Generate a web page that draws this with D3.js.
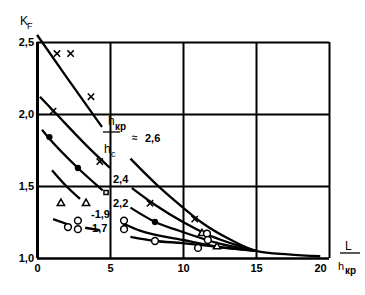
<!DOCTYPE html>
<html>
<head>
<meta charset="utf-8">
<script src="https://cdn.jsdelivr.net/npm/d3@7"></script>
<style>
  body { margin: 0; background: #fff; }
  text { font-family: "Liberation Sans", Arial, sans-serif; fill: #000; }
</style>
</head>
<body>
<div id="chart"></div>
<script>
// NOTE: data (x = L/h_kp, y = K_F); null = break in the line
const xTicks = [0, 5, 10, 15, 20];
const yTicks = [1.0, 1.5, 2.0, 2.5];
const curve26 = [[0, 2.55], [2, 2.26], [4.45, 1.91], null, [6.4, 1.69], [8.4, 1.49], [10.0, 1.35],
  [11.3, 1.245], [13.2, 1.13], [15.0, 1.05], [17.2, 1.025], [19.4, 1.012]];
const curve24 = [[0.2, 2.12], [1.23, 2.01], [3.5, 1.77], [5.0, 1.625], null, [6.5, 1.486], [8.1, 1.368],
  [10, 1.25], [11.6, 1.167], [15.0, 1.05]];
const curve22 = [[0.34, 1.89], [0.75, 1.84], [2.8, 1.625], [4.5, 1.47], null, [6.4, 1.35], [8.1, 1.25],
  [10, 1.18], [12.5, 1.1], [15.0, 1.05]];
const curve19 = [[1.03, 1.61], [2.0, 1.5], [2.95, 1.41], null, [5.9, 1.24], [7.05, 1.19],
  [10, 1.125], [12.5, 1.075], [15.0, 1.05]];
const curve17 = [[1.1, 1.27], [2.05, 1.236], null, [3.3, 1.21], [4.3, 1.194], null, [6.4, 1.146],
  [8.1, 1.118], [10, 1.104], [12.5, 1.075], [15.0, 1.05]];
const crossPts = [[1.37, 2.42], [2.3, 2.42], [3.7, 2.12], [10.8, 1.27], [1.1, 2.02], [4.3, 1.67], [7.74, 1.38]];
const dotPts = [[0.85, 1.84], [2.8, 1.625], [8.08, 1.25]];
const squarePts = [[4.73, 1.455]];
const trianglePts = [[1.64, 1.38], [3.36, 1.38], [11.3, 1.17], [12.33, 1.078]];
const circlePts = [[2.12, 1.215], [2.8, 1.26], [2.8, 1.2], [5.96, 1.26], [5.96, 1.2],
  [8.08, 1.118], [11.03, 1.07], [11.64, 1.17], [11.7, 1.125]];
const curveLabels = [
  ['2,4', 113, 183], ['2,2', 113, 207], ['-1,9', 91, 218], ['\u20131,7', 86, 232]];

const width = 365, height = 295;
const x = d3.scaleLinear().domain([0, 20]).range([37, 329]);
const y = d3.scaleLinear().domain([1, 2.5]).range([258, 42]);
const fmt = d => d3.format('.1f')(d).replace('.', ',');

const svg = d3.select('#chart').append('svg')
  .attr('width', width)
  .attr('height', height);

// grid + frame
const gx = svg.append('g')
  .attr('transform', `translate(0,${y(1)})`)
  .call(d3.axisBottom(x).tickValues(xTicks).tickSize(-(y(1) - y(2.5))).tickPadding(6).tickFormat(d3.format('d')));
const gy = svg.append('g')
  .attr('transform', `translate(${x(0)},0)`)
  .call(d3.axisLeft(y).tickValues(yTicks).tickSize(-(x(20) - x(0))).tickPadding(3).tickFormat(fmt));
[gx, gy].forEach(g => {
  g.select('.domain').remove();
  g.selectAll('line').attr('stroke', '#000').attr('stroke-width', 2);
  g.selectAll('text').attr('font-size', 11).attr('font-weight', 'bold').attr('fill', '#000');
});
gx.selectAll('text').filter(d => d === 20).attr('dx', -9);
gy.selectAll('line').filter(d => d === 1).attr('stroke-width', 2.5);
gx.selectAll('line').filter(d => d === 0).attr('stroke-width', 3);

// curves
const line = d3.line()
  .defined(d => d != null)
  .x(d => x(d[0]))
  .y(d => y(d[1]))
  .curve(d3.curveMonotoneX);
[curve26, curve24, curve22, curve19, curve17].forEach(c => {
  svg.append('path')
    .attr('d', line(c))
    .attr('fill', 'none')
    .attr('stroke', '#000')
    .attr('stroke-width', 2.3);
});

// markers
function markers(data, type, size, filled) {
  svg.append('g').selectAll('path')
    .data(data)
    .join('path')
    .attr('transform', d => `translate(${x(d[0])},${y(d[1])})`)
    .attr('d', d3.symbol(type, size))
    .attr('fill', filled ? '#000' : '#fff')
    .attr('stroke', '#000')
    .attr('stroke-width', 1.5);
}
markers(crossPts, d3.symbolTimes, 28, false);
markers(trianglePts, d3.symbolTriangle2, 38, false);
markers(circlePts, d3.symbolCircle, 36, false);
markers(squarePts, d3.symbolSquare2, 22, false);
markers(dotPts, d3.symbolCircle, 18, true);

// curve labels
svg.append('g').selectAll('text')
  .data(curveLabels)
  .join('text')
  .attr('x', d => d[1])
  .attr('y', d => d[2])
  .attr('font-size', 11)
  .attr('font-weight', 'bold')
  .text(d => d[0]);

// ratio label h_kp / h_c = 2,6
svg.append('text').attr('x', 108).attr('y', 125).attr('font-size', 12).text('h');
svg.append('text').attr('x', 115).attr('y', 130).attr('font-size', 10).attr('font-weight', 'bold').text('кр');
svg.append('line').attr('x1', 103).attr('x2', 120).attr('y1', 132).attr('y2', 132)
  .attr('stroke', '#000').attr('stroke-width', 1.3);
svg.append('text').attr('x', 132).attr('y', 141).attr('font-size', 10).attr('font-weight', 'bold').text('\u2248');
svg.append('text').attr('x', 145).attr('y', 142).attr('font-size', 11).attr('font-weight', 'bold').text('2,6');
svg.append('text').attr('x', 104).attr('y', 153).attr('font-size', 12).text('h');
svg.append('text').attr('x', 111).attr('y', 157).attr('font-size', 9).text('c');

// axis titles
svg.append('text').attr('x', 20).attr('y', 25).attr('font-size', 12).text('K');
svg.append('text').attr('x', 27).attr('y', 29).attr('font-size', 9).text('F');
svg.append('text').attr('x', 345).attr('y', 250).attr('font-size', 12).text('L');
svg.append('line').attr('x1', 340).attr('x2', 360).attr('y1', 253).attr('y2', 253)
  .attr('stroke', '#000').attr('stroke-width', 1.3);
svg.append('text').attr('x', 338).attr('y', 270).attr('font-size', 11).text('h');
svg.append('text').attr('x', 345).attr('y', 274).attr('font-size', 10).attr('font-weight', 'bold').text('кр');
</script>
</body>
</html>
